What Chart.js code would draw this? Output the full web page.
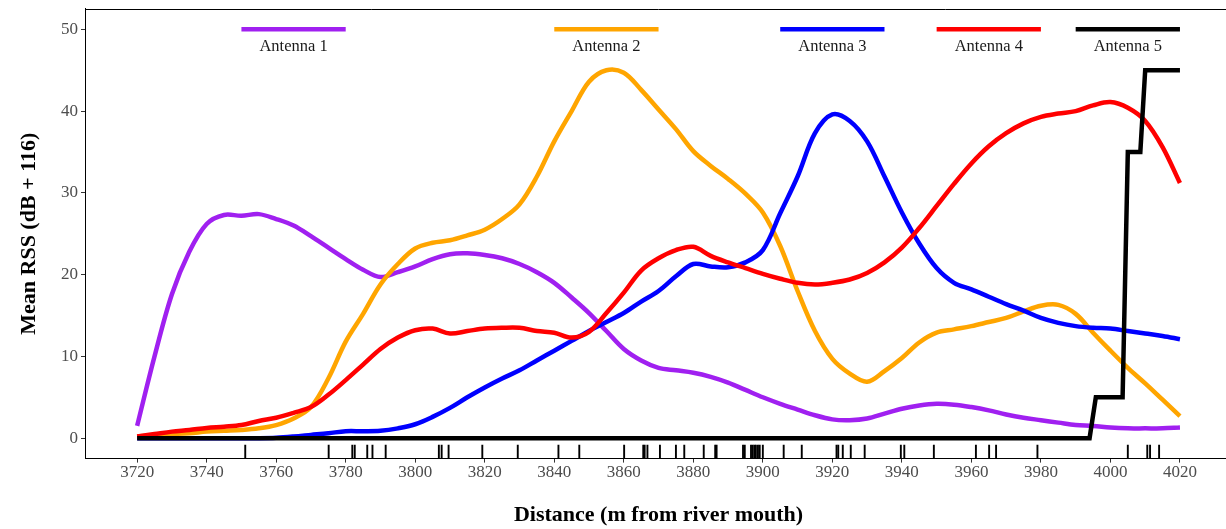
<!DOCTYPE html>
<html>
<head>
<meta charset="utf-8">
<title>Mean RSS along the river</title>
<script src="https://cdn.jsdelivr.net/npm/chart.js@4.4.1/dist/chart.umd.min.js"></script>
<style>
  html, body { margin: 0; padding: 0; background: #fff; overflow: hidden; }
  #wrap { width: 1241px; height: 529px; position: relative; }
</style>
</head>
<body>
<div id="wrap"><canvas id="rss"></canvas></div>
<script>
// Distance along the river (m from river mouth) for the smoothed curves
const distance = [
  3720, 3725, 3730, 3735, 3740, 3745, 3750, 3755, 3760, 3765,
  3770, 3775, 3780, 3785, 3790, 3795, 3800, 3805, 3810, 3815,
  3820, 3825, 3830, 3835, 3840, 3845, 3850, 3855, 3860, 3865,
  3870, 3875, 3880, 3885, 3890, 3895, 3900, 3905, 3910, 3915,
  3920, 3925, 3930, 3935, 3940, 3945, 3950, 3955, 3960, 3965,
  3970, 3975, 3980, 3985, 3990, 3995, 4000, 4005, 4010, 4015, 4020
];

// Mean RSS (dB + 116) per antenna
const antenna1 = [
  1.5, 10.0, 17.6, 22.8, 26.2, 27.3, 27.2, 27.4, 26.8, 26.0,
  24.7, 23.3, 21.9, 20.6, 19.7, 20.3, 21.0, 21.9, 22.5, 22.6,
  22.4, 22.0, 21.3, 20.3, 19.0, 17.2, 15.3, 13.1, 10.9, 9.5,
  8.6, 8.3, 8.0, 7.5, 6.8, 5.9, 5.0, 4.2, 3.5, 2.8,
  2.3, 2.2, 2.4, 3.0, 3.6, 4.0, 4.2, 4.1, 3.8, 3.4,
  2.9, 2.5, 2.2, 1.9, 1.6, 1.5, 1.3, 1.2, 1.2, 1.2, 1.3
];
const antenna2 = [
  0.2, 0.4, 0.5, 0.6, 0.8, 0.9, 1.0, 1.2, 1.6, 2.4,
  3.8, 7.3, 11.8, 15.2, 18.8, 21.3, 23.2, 23.9, 24.2, 24.8,
  25.5, 26.8, 28.6, 32.0, 36.3, 40.0, 43.6, 45.0, 44.7, 42.6,
  40.2, 37.8, 35.1, 33.3, 31.7, 29.9, 27.6, 23.5, 18.0, 13.1,
  9.7, 7.9, 6.9, 8.2, 9.8, 11.7, 12.9, 13.3, 13.7, 14.2,
  14.7, 15.5, 16.2, 16.3, 15.2, 12.9, 10.7, 8.6, 6.7, 4.7, 2.7
];
const antenna3 = [
  0.0, 0.0, 0.0, 0.0, 0.0, 0.0, 0.0, 0.0, 0.05, 0.2,
  0.4, 0.6, 0.85, 0.85, 0.9, 1.2, 1.7, 2.6, 3.7, 5.0,
  6.2, 7.3, 8.3, 9.5, 10.7, 11.9, 13.1, 14.2, 15.3, 16.7,
  18.0, 19.8, 21.3, 21.0, 20.9, 21.5, 23.0, 27.5, 32.0, 37.3,
  39.6, 38.8, 36.3, 32.0, 27.6, 23.8, 20.8, 19.0, 18.2, 17.3,
  16.4, 15.6, 14.7, 14.1, 13.7, 13.5, 13.4, 13.1, 12.8, 12.5, 12.1
];
const antenna4 = [
  0.2, 0.5, 0.8, 1.0, 1.25, 1.4, 1.6, 2.1, 2.5, 3.1,
  3.8, 5.3, 7.1, 9.0, 10.9, 12.3, 13.2, 13.4, 12.8, 13.1,
  13.4, 13.5, 13.5, 13.1, 12.9, 12.3, 13.0, 15.3, 17.8, 20.5,
  22.0, 23.0, 23.4, 22.3, 21.5, 20.8, 20.1, 19.5, 19.0, 18.8,
  19.0, 19.4, 20.2, 21.5, 23.3, 25.7, 28.4, 31.1, 33.6, 35.7,
  37.3, 38.5, 39.3, 39.7, 40.0, 40.7, 41.1, 40.4, 38.8, 35.6, 31.2
];

// Antenna 5 only picks up signal near the upstream end
const antenna5Distance = [3720, 3994, 3995.8, 4003.5, 4005, 4008.6, 4010, 4020];
const antenna5 = [0, 0, 5, 5, 35, 35, 45, 45];

// Positions where detections were logged (rug along the x axis)
const detections = [
  3751.1, 3775.1, 3781.9, 3782.6, 3786.2, 3787.7, 3791.5, 3806.8, 3807.6, 3809.6,
  3819.3, 3829.5, 3841.2, 3847.2, 3860.1, 3865.6, 3866.0, 3866.8, 3870.4, 3875.0,
  3877.4, 3883.0, 3886.3, 3886.7, 3894.3, 3894.8, 3896.6, 3897.1, 3897.6, 3898.0,
  3898.6, 3899.1, 3900.0, 3906.0, 3911.2, 3921.2, 3921.7, 3923.0, 3925.3, 3929.3,
  3939.7, 3940.7, 3949.2, 3961.3, 3965.1, 3967.1, 3979.0, 4005.0, 4010.6, 4011.4,
  4014.0
];

// Axis ticks
const xTicks = [3720, 3740, 3760, 3780, 3800, 3820, 3840, 3860, 3880, 3900,
                3920, 3940, 3960, 3980, 4000, 4020];
const yTicks = [0, 10, 20, 30, 40, 50];

// In-panel key: names with the span of each key segment
const antennaNames = ['Antenna 1', 'Antenna 2', 'Antenna 3', 'Antenna 4', 'Antenna 5'];
const keyStart = [3750, 3840, 3905, 3950, 3990];
const keyEnd = [3780, 3870, 3935, 3980, 4020];
const keyLineY = 50;
const keyLabelY = 47.9;

const colours = ['#A020F0', '#FFA500', '#0000FF', '#FF0000', '#000000'];
const SERIF = '"Liberation Serif", "Times New Roman", serif';
const LINE_W = 4.5;

const curveSeries = [antenna1, antenna2, antenna3, antenna4];

const datasets = [];

// Antenna 5 sits on top, then 4, 3, 2, 1
datasets.push({
  label: antennaNames[4],
  data: antenna5Distance.map((d, i) => ({ x: d, y: antenna5[i] })),
  borderColor: colours[4],
  borderWidth: LINE_W,
  tension: 0,
  borderJoinStyle: 'miter',
  borderCapStyle: 'butt',
  pointRadius: 0,
  order: 1
});
curveSeries.forEach((vals, k) => {
  datasets.push({
    label: antennaNames[k],
    data: distance.map((d, i) => ({ x: d, y: vals[i] })),
    borderColor: colours[k],
    borderWidth: LINE_W,
    tension: 0.35,
    borderJoinStyle: 'round',
    borderCapStyle: 'butt',
    pointRadius: 0,
    order: 5 - k
  });
});

// Key segments
antennaNames.forEach((name, k) => {
  datasets.push({
    label: name + ' key',
    data: [{ x: keyStart[k], y: keyLineY }, { x: keyEnd[k], y: keyLineY }],
    borderColor: colours[k],
    borderWidth: LINE_W,
    borderCapStyle: 'butt',
    pointRadius: 0,
    order: 6
  });
});

// Rug of detections
datasets.push({
  label: 'detections',
  data: detections.map(d => ({ x: d, y: -1.65 })),
  showLine: false,
  pointStyle: 'line',
  pointRotation: 90,
  pointRadius: 7,
  pointBorderWidth: 1.9,
  pointBorderColor: '#000',
  pointBackgroundColor: '#000',
  order: 0
});

const panelExtras = {
  id: 'panelExtras',
  afterDatasetsDraw(chart) {
    const { ctx, chartArea, scales: { x, y } } = chart;
    ctx.save();
    // top edge of the panel
    ctx.strokeStyle = '#000';
    ctx.lineWidth = 1;
    ctx.beginPath();
    ctx.moveTo(chartArea.left, Math.round(chartArea.top) + 0.5);
    ctx.lineTo(chartArea.right, Math.round(chartArea.top) + 0.5);
    ctx.stroke();
    // key labels under each segment
    ctx.font = '16.5px ' + SERIF;
    ctx.fillStyle = '#1a1a1a';
    ctx.textAlign = 'center';
    ctx.textBaseline = 'middle';
    antennaNames.forEach((name, k) => {
      const cx = x.getPixelForValue((keyStart[k] + keyEnd[k]) / 2);
      ctx.fillText(name, cx, y.getPixelForValue(keyLabelY));
    });
    ctx.restore();
  }
};

new Chart(document.getElementById('rss'), {
  type: 'line',
  data: { datasets },
  options: {
    responsive: true,
    maintainAspectRatio: false,
    animation: false,
    events: [],
    layout: { padding: { top: 8, left: 0, right: 0, bottom: 0 } },
    plugins: { legend: { display: false }, tooltip: { enabled: false } },
    scales: {
      x: {
        type: 'linear',
        min: 3705,
        max: 4035,
        afterBuildTicks(s) { s.ticks = xTicks.map(v => ({ value: v })); },
        afterFit(s) { s.height = 70.4; s.paddingLeft = 0; s.paddingRight = 0; },
        border: { display: true, color: '#000', width: 1 },
        grid: { display: true, drawOnChartArea: false, drawTicks: true, tickLength: 4, color: '#333', tickWidth: 1 },
        ticks: {
          autoSkip: false, maxRotation: 0, padding: 0,
          color: '#4D4D4D',
          font: { family: SERIF, size: 17 },
          callback: v => String(v)
        },
        title: {
          display: true,
          text: 'Distance (m from river mouth)',
          color: '#000',
          font: { family: SERIF, size: 22, weight: 'bold' },
          padding: { top: 0, bottom: 0 }
        }
      },
      y: {
        type: 'linear',
        min: -2.5,
        max: 52.5,
        afterBuildTicks(s) { s.ticks = yTicks.map(v => ({ value: v })); },
        afterFit(s) { s.width = 85; s.paddingTop = 0; s.paddingBottom = 0; },
        border: { display: true, color: '#000', width: 1 },
        grid: { display: true, drawOnChartArea: false, drawTicks: true, tickLength: 4, color: '#333', tickWidth: 1 },
        ticks: {
          padding: 3,
          color: '#4D4D4D',
          font: { family: SERIF, size: 17 },
          callback: v => String(v)
        },
        title: {
          display: true,
          text: 'Mean RSS (dB + 116)',
          color: '#000',
          font: { family: SERIF, size: 22, weight: 'bold' },
          padding: { top: 16, bottom: 0 }
        }
      }
    }
  },
  plugins: [panelExtras]
});
</script>
</body>
</html>
